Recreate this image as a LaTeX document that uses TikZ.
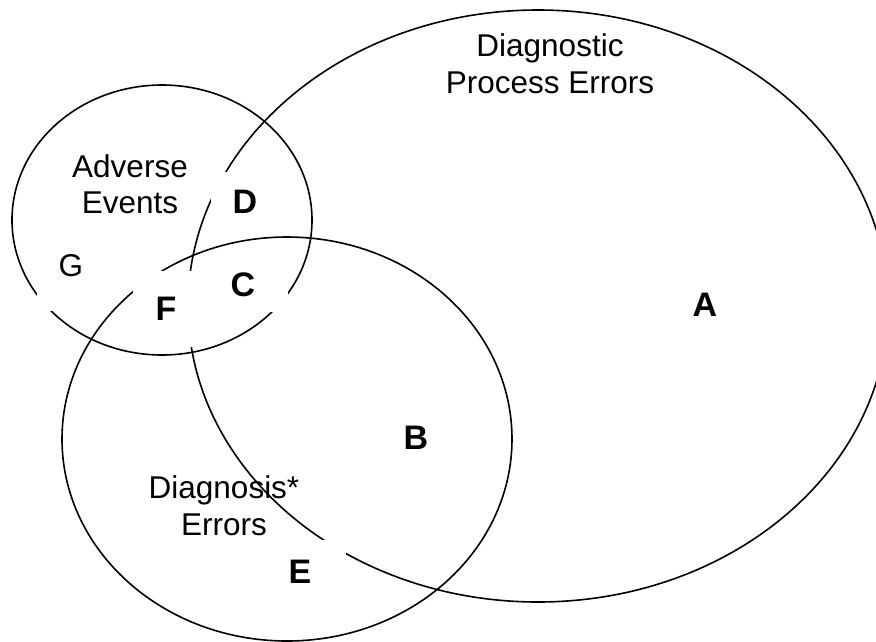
\documentclass[tikz,border=0pt]{standalone}
\usepackage{fontspec}
\setmainfont{Liberation Sans}
\usetikzlibrary{positioning,calc}

\begin{document}
\begin{tikzpicture}[
    x=1pt, y=-1pt,
    ring/.style={draw, line width=1.6pt},
    setlab/.style={align=center, inner sep=0pt, font=\fontsize{31.5}{36.5}\selectfont},
    region/.style={fill=white, inner sep=0pt, font=\fontsize{34}{36}\selectfont\bfseries},
    plainregion/.style={fill=white, inner sep=0pt, font=\fontsize{31.5}{36}\selectfont}
]
\useasboundingbox (0,0) rectangle (876,641);
\clip (0,0) rectangle (876,641);

% Ellipses: process errors, diagnosis errors, adverse events
\foreach \cx/\cy/\rx/\ry in {538/306/350/296, 287/439/225/202, 162/220/150/135} {
    \draw[ring] (\cx,\cy) ellipse [x radius=\rx, y radius=\ry];
}

% Set names
\node[setlab] (procerr) at (550,63.5) {Diagnostic\\Process Errors};
\node[setlab] (advev) at (130,184) {Adverse\\Events};
\node[setlab] (diagerr) at (224,505.5) {Diagnosis*\\Errors};

% Regions (white boxes hide the lines behind them)
\node[region] (A) at (705,305) {A};
\node[region] (B) at (416,437.5) {B};
\node[region, minimum width=90pt, minimum height=54pt] (C) at (243,285) {C};
\node[region, minimum width=68pt, minimum height=60pt] (D) at (245,202) {D};
\node[region, minimum width=92pt, minimum height=64pt] (E) at (300,572) {E};
\node[region, minimum width=66pt, minimum height=76pt] (F) at (166,309) {F};
\node[plainregion, minimum width=68pt, minimum height=90pt] (G) at (71,266) {G};

\end{tikzpicture}
\end{document}
